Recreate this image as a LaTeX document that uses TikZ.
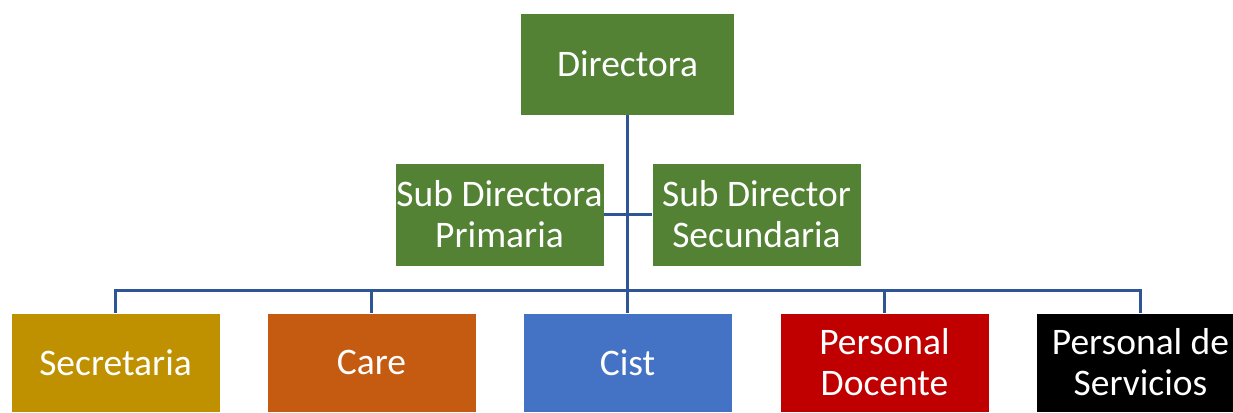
\documentclass[tikz,border=0pt]{standalone}
\usepackage{fontspec}
\setmainfont{Carlito}
\definecolor{boxgreen}{HTML}{548235}
\definecolor{boxgold}{HTML}{BF9000}
\definecolor{boxorange}{HTML}{C55A11}
\definecolor{boxblue}{HTML}{4472C4}
\definecolor{boxred}{HTML}{C00000}
\definecolor{linkblue}{HTML}{2F5597}
\begin{document}
\begin{tikzpicture}[x=1pt, y=-1pt,
        every node/.style={rectangle, draw=white, very thin, text=white, align=center,
          inner sep=0pt, minimum width=209pt, minimum height=103pt,
          font=\fontsize{37.5}{41}\selectfont},
        link/.style={draw=linkblue, line width=3pt}]

      \useasboundingbox (0,0) rectangle (1233,412);

      % Top level
      \node[fill=boxgreen, minimum width=214pt, minimum height=102pt] (D) at (627.5,64) {Directora};

      % Assistant level
      \node[fill=boxgreen] (SP) at (499.5,214.5) {Sub Directora\\Primaria};
      \node[fill=boxgreen] (SS) at (756.5,214.5) {Sub Director\\Secundaria};

      % Staff level
      \node[fill=boxgold, minimum height=99pt] (Sec) at (115.5,362.5) {Secretaria};
      \node[fill=boxorange, minimum height=99pt] (Care) at (371.5,362.5) {Care};
      \node[fill=boxblue, minimum height=99pt] (Cist) at (627.5,362.5) {Cist};
      \node[fill=boxred, minimum height=99pt] (Doc) at (884.5,362.5) {Personal\\Docente};
      \node[fill=black, minimum height=99pt] (Serv) at (1140.5,362.5) {Personal de\\Servicios};

      \coordinate (bus) at (627.5,290);

      % Connections
      \draw[link] (D) -- (Cist);
      \draw[link] (SP) -- (SS);
      \foreach \n in {Sec,Care,Doc,Serv}
        \draw[link] (\n.north) |- (bus);
    \end{tikzpicture}
\end{document}
